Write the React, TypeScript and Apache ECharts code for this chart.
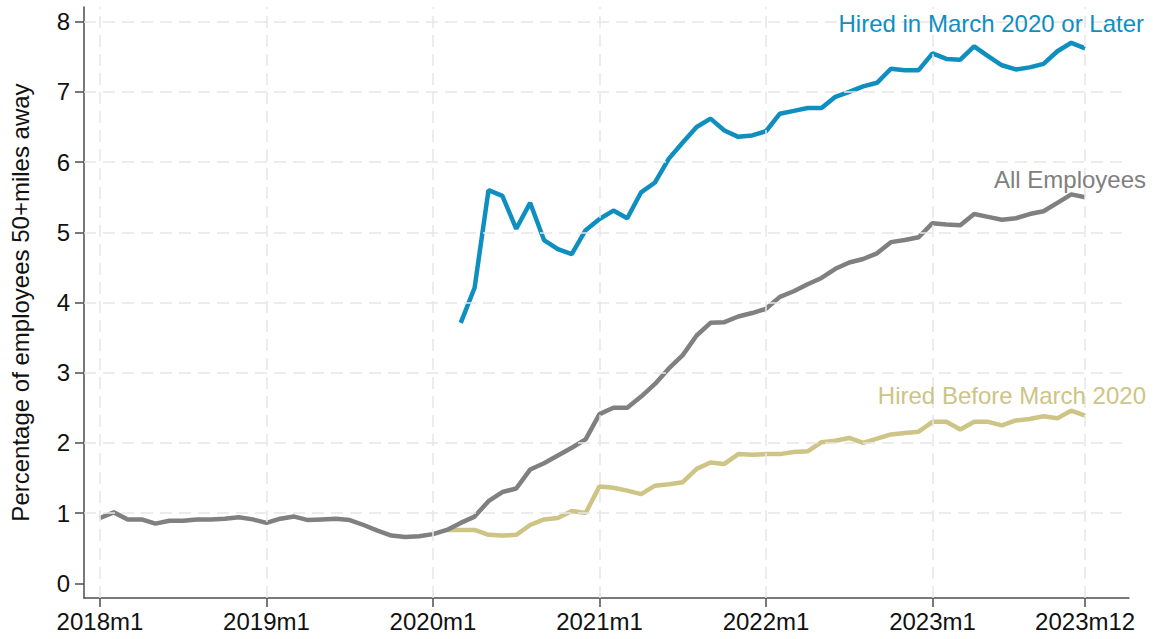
import React, { useEffect, useRef } from "react";
import * as echarts from "echarts";

// month index 0 = 2018m1 ... 71 = 2023m12
const tickMonths = [0, 12, 24, 36, 48, 60, 71];
const tickLabels = ["2018m1", "2019m1", "2020m1", "2021m1", "2022m1", "2023m1", "2023m12"];
const yTicks = [0, 1, 2, 3, 4, 5, 6, 7, 8];

const allEmployees = [
  0.93, 1.01, 0.91, 0.91, 0.85, 0.89, 0.89, 0.91, 0.91, 0.92, 0.94, 0.91,
  0.86, 0.92, 0.95, 0.9, 0.91, 0.92, 0.9, 0.83, 0.75, 0.68, 0.66, 0.67,
  0.7, 0.76, 0.86, 0.95, 1.17, 1.3, 1.35, 1.62, 1.71, 1.82, 1.93, 2.05,
  2.41, 2.5, 2.5, 2.66, 2.84, 3.06, 3.25, 3.53, 3.71, 3.72, 3.8, 3.85,
  3.91, 4.08, 4.16, 4.26, 4.35, 4.48, 4.57, 4.62, 4.7, 4.86, 4.89, 4.93,
  5.13, 5.11, 5.1, 5.26, 5.22, 5.18, 5.2, 5.26, 5.3, 5.42, 5.54, 5.5,
];

const hiredBeforeStart = 25;
const hiredBefore = [
  0.76, 0.76, 0.76, 0.69, 0.68, 0.69, 0.83, 0.91, 0.93, 1.03, 1.0,
  1.38, 1.36, 1.32, 1.27, 1.39, 1.41, 1.44, 1.63, 1.72, 1.7, 1.84, 1.83,
  1.84, 1.84, 1.87, 1.88, 2.01, 2.03, 2.07, 2.0, 2.06, 2.12, 2.14, 2.16,
  2.3, 2.3, 2.19, 2.3, 2.3, 2.25, 2.32, 2.34, 2.38, 2.35, 2.46, 2.39,
];

const hiredAfterStart = 26;
const hiredAfter = [
  3.71, 4.21, 5.6, 5.52, 5.05, 5.42, 4.89, 4.76, 4.69, 5.03,
  5.19, 5.31, 5.2, 5.57, 5.71, 6.05, 6.28, 6.5, 6.62, 6.45, 6.36, 6.38,
  6.44, 6.69, 6.73, 6.77, 6.77, 6.93, 7.0, 7.08, 7.13, 7.33, 7.31, 7.31,
  7.55, 7.47, 7.46, 7.65, 7.51, 7.38, 7.32, 7.35, 7.4, 7.58, 7.7, 7.62,
];

const FONT = "'Liberation Sans', Arial, Helvetica, sans-serif";
const FS = 24;
const BLUE = "#0f8fc0";
const GRAY = "#808080";
const BEIGE = "#cdc485";
const AXIS = "#4d4d4d";
const LW = 4.5;

const toPairs = (arr: number[], start: number) => arr.map((v, i) => [start + i, v]);

export default function App() {
  const ref = useRef<HTMLDivElement>(null);
  useEffect(() => {
    if (!ref.current) return;
    const chart = echarts.init(ref.current, undefined, { renderer: "svg" });
    chart.setOption({
      animation: false,
      backgroundColor: "#ffffff",
      textStyle: { fontFamily: FONT },
      grid: { left: 81, right: 24, top: 7, bottom: 41, containLabel: false },
      xAxis: {
        type: "value",
        min: -1.15,
        max: 74.16,
        axisLine: { show: true, onZero: false, lineStyle: { color: AXIS, width: 1.5 } },
        axisTick: { show: true, customValues: tickMonths, length: 9, lineStyle: { color: AXIS, width: 1.5 } },
        axisLabel: {
          customValues: tickMonths,
          formatter: (v: number) => tickLabels[tickMonths.indexOf(Math.round(v))] ?? "",
          fontSize: FS,
          color: "#111",
          fontFamily: FONT,
          margin: 11,
        },
        splitLine: { show: false },
      },
      yAxis: {
        type: "value",
        min: -0.21,
        max: 8.21,
        name: "Percentage of employees 50+miles away",
        nameLocation: "middle",
        nameRotate: 90,
        nameGap: 52,
        nameTextStyle: { fontSize: FS, color: "#111", fontFamily: FONT },
        axisLine: { show: true, onZero: false, lineStyle: { color: AXIS, width: 1.5 } },
        axisTick: { show: true, customValues: yTicks, length: 9, lineStyle: { color: AXIS, width: 1.5 } },
        axisLabel: {
          customValues: yTicks,
          fontSize: FS,
          color: "#111",
          fontFamily: FONT,
          margin: 14,
        },
        splitLine: { show: false },
      },
      series: [
        {
          type: "line",
          data: [],
          z: 1,
          silent: true,
          markLine: {
            silent: true,
            symbol: ["none", "none"],
            label: { show: false },
            lineStyle: { color: "#e6e6e6", type: [12, 7], width: 1.5 },
            data: [
              ...yTicks.filter((v) => v > 0).map((v) => ({ yAxis: v })),
              ...tickMonths.map((m) => ({ xAxis: m })),
            ],
          },
        },
        {
          name: "All Employees",
          type: "line",
          z: 3,
          showSymbol: false,
          data: toPairs(allEmployees, 0),
          lineStyle: { color: GRAY, width: LW },
          itemStyle: { color: GRAY },
        },
        {
          name: "Hired Before March 2020",
          type: "line",
          z: 2,
          showSymbol: false,
          data: toPairs(hiredBefore, hiredBeforeStart),
          lineStyle: { color: BEIGE, width: LW },
          itemStyle: { color: BEIGE },
        },
        {
          name: "Hired in March 2020 or Later",
          type: "line",
          z: 4,
          showSymbol: false,
          data: toPairs(hiredAfter, hiredAfterStart),
          lineStyle: { color: BLUE, width: LW },
          itemStyle: { color: BLUE },
        },
      ],
      graphic: [
        {
          type: "text",
          x: 1144,
          y: 23,
          z: 10,
          style: { text: "Hired in March 2020 or Later", fill: BLUE, fontSize: FS, fontFamily: FONT, align: "right", verticalAlign: "middle" },
        },
        {
          type: "text",
          x: 1146,
          y: 179,
          z: 10,
          style: { text: "All Employees", fill: GRAY, fontSize: FS, fontFamily: FONT, align: "right", verticalAlign: "middle" },
        },
        {
          type: "text",
          x: 1146,
          y: 395,
          z: 10,
          style: { text: "Hired Before March 2020", fill: BEIGE, fontSize: FS, fontFamily: FONT, align: "right", verticalAlign: "middle" },
        },
      ],
    });
    return () => chart.dispose();
  }, []);
  return (
    <div
      ref={ref}
      style={{ position: "absolute", left: 0, top: 0, width: 1153, height: 639, background: "#fff" }}
    />
  );
}
